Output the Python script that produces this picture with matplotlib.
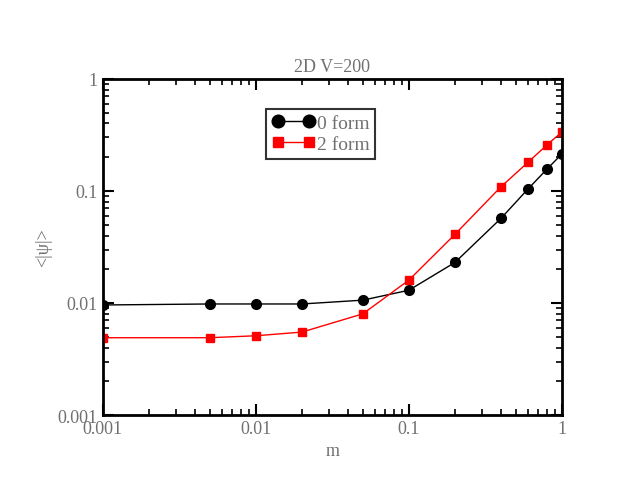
import matplotlib
matplotlib.use("Agg")
import matplotlib.pyplot as plt

m = [0.001, 0.005, 0.01, 0.02, 0.05, 0.1, 0.2, 0.4, 0.6, 0.8, 1.0]
form0 = [0.0096, 0.0098, 0.0098, 0.0098, 0.0106, 0.013, 0.023, 0.057, 0.104, 0.157, 0.214]
form2 = [0.0049, 0.0049, 0.0051, 0.0055, 0.008, 0.016, 0.041, 0.109, 0.18, 0.258, 0.336]

plt.rcParams['font.family'] = ['Liberation Serif', 'DejaVu Serif']
txt = '#707070'

fig = plt.figure(figsize=(6.23, 4.81), dpi=100)
ax = fig.add_axes([0.165, 0.135, 0.737, 0.699])
ax.plot(m, form0, '-o', color='black', ms=7, lw=1, label='0 form')
ax.plot(m, form2, '-s', color='red', ms=6, lw=1, label='2 form')
ax.set_xscale('log')
ax.set_yscale('log')
ax.set_xlim(0.001, 1)
ax.set_ylim(0.001, 1)
ax.set_xticks([0.001, 0.01, 0.1, 1])
ax.set_xticklabels(['0.001', '0.01', '0.1', '1'])
ax.set_yticks([0.001, 0.01, 0.1, 1])
ax.set_yticklabels(['0.001', '0.01', '0.1', '1'])
ax.tick_params(which='both', direction='in', top=True, right=True, colors='black', labelcolor=txt, labelsize=13)
ax.tick_params(which='major', length=8, width=1.5)
ax.tick_params(which='minor', length=4, width=1.2)
for s in ax.spines.values():
    s.set_linewidth(2)
ax.set_title('2D V=200', color=txt, fontsize=13)
ax.set_xlabel('m', color=txt, fontsize=13)
ax.set_ylabel('<|ψ|>', color=txt, fontsize=13)
leg = ax.legend(loc='upper center', bbox_to_anchor=(0.475, 0.94), fancybox=False,
                edgecolor='black', fontsize=14, handlelength=2.2, borderpad=0.3,
                labelspacing=0.15, handletextpad=0.1, markerscale=1.3, numpoints=2)
leg.get_frame().set_linewidth(1.5)
for t in leg.get_texts():
    t.set_color(txt)
fig.savefig('out.png', dpi=100)
